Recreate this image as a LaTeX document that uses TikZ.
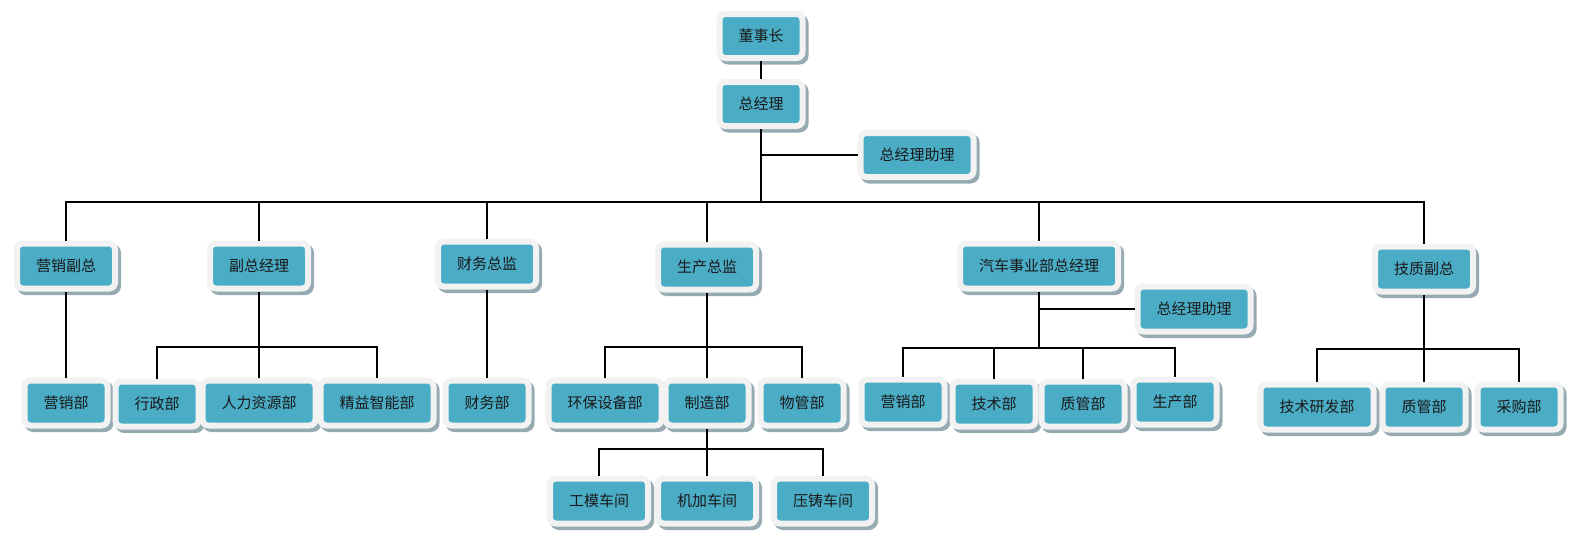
\documentclass[tikz,border=0pt]{standalone}
\usepackage{fontspec}
\newfontfamily\cjk{Noto Sans CJK SC}
\usetikzlibrary{shadows}
\definecolor{boxteal}{RGB}{75,172,198}
\definecolor{boxrim}{RGB}{242,242,242}
\definecolor{boxshade}{RGB}{150,170,178}
\definecolor{boxtext}{RGB}{25,25,25}

\begin{document}
\begin{tikzpicture}[x=1pt, y=-1pt,
    orgbox/.style={draw=boxrim, line width=6pt, fill=boxteal, rounded corners=6pt,
        inner xsep=19pt, inner ysep=0pt, minimum height=45pt,
        text=boxtext, font=\cjk\fontsize{15}{17}\selectfont,
        drop shadow={shadow xshift=3pt, shadow yshift=-3.5pt, draw=boxshade,
            line width=6pt, fill=boxshade, opacity=1}},
    topbox/.style={orgbox, minimum height=44pt},
    conn/.style={draw=black, line width=1.1pt}
]
    \useasboundingbox (0,0) rectangle (1584,544);

    % Top
    \node[topbox] (dsz) at (761,36) {董事长};
    \node[topbox] (zjl) at (761,104) {总经理};
    \node[topbox] (zjlzl) at (917,155) {总经理助理};

    % Second level
    \node[orgbox] (yxfz) at (66,266) {营销副总};
    \node[orgbox] (fzjl) at (259,266) {副总经理};
    \node[orgbox] (cwzj) at (487,264) {财务总监};
    \node[orgbox] (sczj) at (707,267) {生产总监};
    \node[orgbox] (qczjl) at (1039,266) {汽车事业部总经理};
    \node[orgbox] (jzfz) at (1424,269) {技质副总};
    \node[orgbox] (qczl) at (1194,309) {总经理助理};

    % Third level
    \node[orgbox] (yxb) at (66,403) {营销部};
    \node[orgbox] (xzb) at (157,404) {行政部};
    \node[orgbox] (rlzyb) at (259,403) {人力资源部};
    \node[orgbox] (jyznb) at (377,403) {精益智能部};
    \node[orgbox] (cwb) at (487,403) {财务部};
    \node[orgbox] (hbsbb) at (605,403) {环保设备部};
    \node[orgbox] (zzb) at (707,403) {制造部};
    \node[orgbox] (wgb) at (802,403) {物管部};
    \node[orgbox] (qcyxb) at (903,402) {营销部};
    \node[orgbox] (qcjsb) at (994,404) {技术部};
    \node[orgbox] (qczgb) at (1083,404) {质管部};
    \node[orgbox] (qcscb) at (1175,402) {生产部};
    \node[orgbox] (jsyfb) at (1317,407) {技术研发部};
    \node[orgbox] (jzzgb) at (1424,407) {质管部};
    \node[orgbox] (cgb) at (1519,407) {采购部};

    % Workshops
    \node[orgbox] (gmcj) at (599,501) {工模车间};
    \node[orgbox] (jjcj) at (707,501) {机加车间};
    \node[orgbox] (yzcj) at (823,501) {压铸车间};

    % Bus points
    \coordinate (busmain) at (761,202);
    \coordinate (busfz) at (259,347);
    \coordinate (bussc) at (707,347);
    \coordinate (buszz) at (707,449);
    \coordinate (busqc) at (1039,348);
    \coordinate (busjz) at (1424,349);

    % Connectors
    \draw[conn] (dsz.south) -- (zjl.north);
    \draw[conn] (zjl.south) -- (busmain);
    \draw[conn] (zjl.south |- zjlzl.west) -- (zjlzl.west);
    \foreach \n in {yxfz,fzjl,cwzj,sczj,qczjl,jzfz}
        \draw[conn] (busmain) -| (\n.north);

    \draw[conn] (yxfz.south) -- (yxb.north);
    \draw[conn] (cwzj.south) -- (cwb.north);

    \draw[conn] (fzjl.south) -- (busfz);
    \foreach \n in {xzb,rlzyb,jyznb}
        \draw[conn] (busfz) -| (\n.north);

    \draw[conn] (sczj.south) -- (bussc);
    \foreach \n in {hbsbb,zzb,wgb}
        \draw[conn] (bussc) -| (\n.north);

    \draw[conn] (zzb.south) -- (buszz);
    \foreach \n in {gmcj,jjcj,yzcj}
        \draw[conn] (buszz) -| (\n.north);

    \draw[conn] (qczjl.south) -- (busqc);
    \draw[conn] (qczjl.south |- qczl.west) -- (qczl.west);
    \foreach \n in {qcyxb,qcjsb,qczgb,qcscb}
        \draw[conn] (busqc) -| (\n.north);

    \draw[conn] (jzfz.south) -- (busjz);
    \foreach \n in {jsyfb,jzzgb,cgb}
        \draw[conn] (busjz) -| (\n.north);
\end{tikzpicture}
\end{document}
